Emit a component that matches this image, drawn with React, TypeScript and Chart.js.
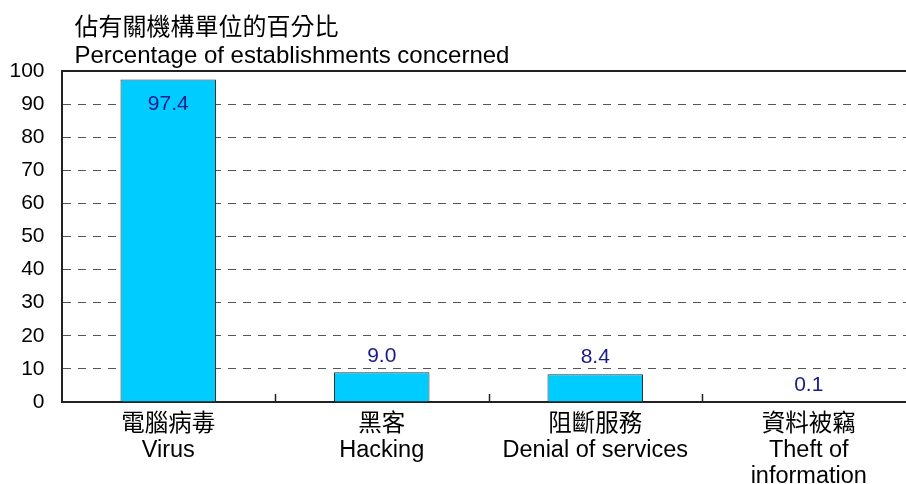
import React, { useEffect, useRef } from "react";
import { Chart, registerables } from "chart.js";

Chart.register(...registerables);

const categories: string[][] = [
  ["電腦病毒", "Virus"],
  ["黑客", "Hacking"],
  ["阻斷服務", "Denial of services"],
  ["資料被竊", "Theft of", "information"],
];
const values: number[] = [97.4, 9.0, 8.4, 0.1];
const valueLabels: string[] = ["97.4", "9.0", "8.4", "0.1"];
const titleZh = "佔有關機構單位的百分比";
const titleEn = "Percentage of establishments concerned";
const yMin = 0;
const yMax = 100;
const yStep = 10;

const FONT = "'Liberation Sans', Arial, 'Noto Sans CJK TC', sans-serif";

const decorPlugin = {
  id: "decor",
  afterDraw(chart: any) {
    const ctx = chart.ctx;
    const area = chart.chartArea;
    const xs = chart.scales.x;
    ctx.save();
    // top border
    ctx.strokeStyle = "#222";
    ctx.lineWidth = 2;
    ctx.beginPath();
    ctx.moveTo(area.left, area.top);
    ctx.lineTo(area.right, area.top);
    ctx.stroke();
    // category separators (inward ticks)
    ctx.lineWidth = 1.5;
    for (let i = 0; i < categories.length - 1; i++) {
      const x = Math.round((xs.getPixelForValue(i) + xs.getPixelForValue(i + 1)) / 2) + 0.5;
      ctx.beginPath();
      ctx.moveTo(x, area.bottom);
      ctx.lineTo(x, area.bottom - 8);
      ctx.stroke();
    }
    // titles
    ctx.fillStyle = "#000";
    ctx.textAlign = "left";
    ctx.textBaseline = "alphabetic";
    ctx.font = `24px ${FONT}`;
    ctx.fillText(titleZh, area.left + 13, 35);
    ctx.fillText(titleEn, area.left + 13, 63);
    ctx.restore();
  },
  afterDatasetsDraw(chart: any) {
    const ctx = chart.ctx;
    const meta = chart.getDatasetMeta(0);
    ctx.save();
    ctx.fillStyle = "#1a1a8a";
    ctx.font = `21px ${FONT}`;
    ctx.textAlign = "center";
    ctx.textBaseline = "middle";
    meta.data.forEach((bar: any, i: number) => {
      const v = values[i];
      const y = v > 50 ? bar.y + 25 : bar.y - 16.5;
      ctx.fillText(valueLabels[i], bar.x, y);
    });
    ctx.restore();
  },
};

export default function App() {
  const ref = useRef<HTMLCanvasElement | null>(null);
  useEffect(() => {
    if (!ref.current) return;
    const chart = new Chart(ref.current, {
      type: "bar",
      data: {
        labels: categories,
        datasets: [
          {
            data: values,
            backgroundColor: "#00CCFF",
            borderColor: "#333",
            borderWidth: 1,
            barPercentage: 0.9,
            categoryPercentage: 0.497,
          },
        ],
      },
      options: {
        animation: false,
        responsive: false,
        maintainAspectRatio: false,
        devicePixelRatio: 1,
        layout: { padding: { top: 71, left: 0, right: 4.5, bottom: 0 } },
        plugins: {
          legend: { display: false },
          tooltip: { enabled: false },
          title: { display: false },
        },
        scales: {
          x: {
            grid: { display: false, drawTicks: false },
            border: { display: true, color: "#222", width: 2 },
            ticks: {
              color: "#000",
              font: { family: FONT, size: 23.5, lineHeight: 1.12 },
              padding: 9,
              maxRotation: 0,
              autoSkip: false,
            },
            afterFit: (scale: any) => {
              scale.height = 82;
            },
          },
          y: {
            min: yMin,
            max: yMax,
            grid: { color: "#555", lineWidth: 1, drawTicks: false },
            border: { display: true, color: "#222", width: 2, dash: [8, 7] },
            ticks: {
              stepSize: yStep,
              color: "#000",
              font: { family: FONT, size: 21 },
              padding: 17,
            },
            afterFit: (scale: any) => {
              scale.width = 61.5;
            },
          },
        },
      },
      plugins: [decorPlugin],
    });
    return () => chart.destroy();
  }, []);
  return (
    <div
      style={{
        position: "fixed",
        left: 0,
        top: 0,
        width: 906,
        height: 484,
        overflow: "hidden",
        background: "#fff",
      }}
    >
      <canvas ref={ref} width={920} height={484} style={{ width: 920, height: 484, display: "block" }} />
    </div>
  );
}
